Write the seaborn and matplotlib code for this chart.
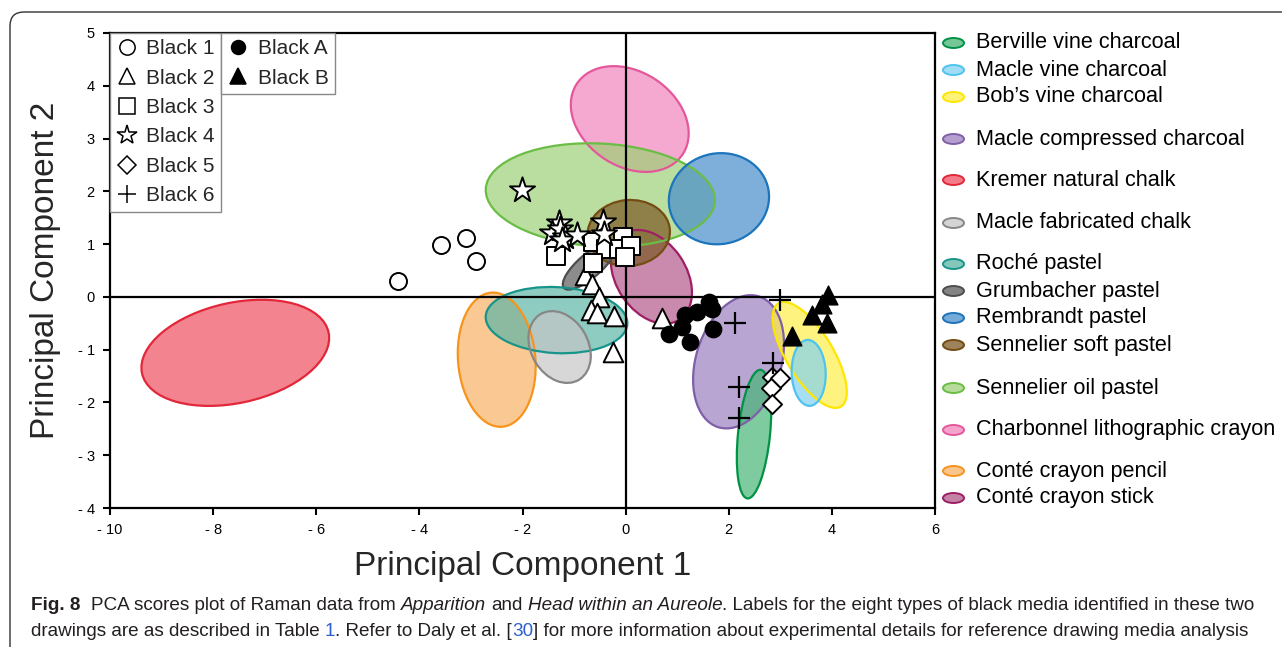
import matplotlib
matplotlib.use("Agg")
import seaborn as sns
import matplotlib.pyplot as plt
from matplotlib.patches import Ellipse, FancyBboxPatch
from matplotlib.lines import Line2D
from matplotlib.transforms import IdentityTransform

# ---- sample scores (PC1, PC2) ----
black1_x = [-4.41, -3.59, -3.09, -2.91]
black1_y = [0.30, 0.98, 1.12, 0.68]
black2_x = [-0.78, -0.66, -0.52, -0.68, -0.56, -0.23, -0.25, 0.70]
black2_y = [0.42, 0.25, 0.00, -0.25, -0.30, -0.36, -1.04, -0.40]
black3_x = [-1.36, -0.64, -0.39, -0.64, -0.06, -0.12, 0.10, -0.02]
black3_y = [0.78, 1.04, 0.91, 0.64, 1.14, 0.91, 0.97, 0.76]
black4_x = [-2.01, -1.30, -1.42, -1.28, -1.17, -1.24, -0.95, -0.43, -0.41]
black4_y = [2.02, 1.40, 1.21, 1.29, 1.14, 1.08, 1.17, 1.42, 1.19]
black5_x = [2.83, 2.99, 2.82, 2.83]
black5_y = [-1.52, -1.53, -1.72, -2.03]
black6_x = [2.99, 2.12, 2.85, 2.19, 2.19]
black6_y = [-0.06, -0.49, -1.25, -1.70, -2.29]
blackA_x = [0.85, 1.09, 1.15, 1.38, 1.24, 1.61, 1.67, 1.69]
blackA_y = [-0.70, -0.57, -0.34, -0.28, -0.85, -0.09, -0.23, -0.61]
blackB_x = [3.92, 3.81, 3.61, 3.90, 3.22]
blackB_y = [0.04, -0.13, -0.34, -0.49, -0.74]

# ---- reference media confidence ellipses ----
media = ["Berville vine charcoal", "Macle vine charcoal", "Bob\u2019s vine charcoal",
         "Macle compressed charcoal", "Kremer natural chalk", "Macle fabricated chalk",
         "Roch\u00e9 pastel", "Grumbacher pastel", "Rembrandt pastel",
         "Sennelier soft pastel", "Sennelier oil pastel",
         "Charbonnel lithographic crayon", "Cont\u00e9 crayon pencil", "Cont\u00e9 crayon stick"]
ell_cx = [2.49, 3.55, 3.57, 2.19, -7.57, -1.28, -1.34, -0.70, 1.81, 0.06, -0.49, 0.08, -2.50, 0.50]
ell_cy = [-2.60, -1.44, -1.10, -1.23, -1.06, -0.95, -0.44, 0.59, 1.86, 1.21, 1.93, 3.37, -1.19, 0.38]
ell_w = [2.45, 1.25, 2.30, 2.60, 3.70, 1.45, 2.75, 1.30, 1.95, 1.60, 4.45, 2.45, 2.55, 1.95]
ell_h = [0.62, 0.66, 0.90, 1.65, 1.90, 1.10, 1.25, 0.45, 1.72, 1.25, 1.95, 1.80, 1.50, 1.35]
ell_ang = [84, 92, -58, 72, 12, -58, -3, 40, 10, 5, -3, -32, 95, -55]

face = ["#47b576", "#80d1f1", "#ffef4a", "#9b7fc0", "#ef4e5e", "#c6c6c6", "#5eb5a6",
        "#5b5b5b", "#488ecd", "#7c5924", "#9dd176", "#f284bc", "#f8b265", "#b2588a"]
edge = ["#009245", "#4dc4f0", "#ffe600", "#7f5fa8", "#e3273a", "#878787", "#18958a",
        "#4d4d4d", "#1c75bc", "#754c14", "#6abd45", "#e5579b", "#f7941d", "#9e1f63"]

xtick_vals = [-10, -8, -6, -4, -2, 0, 2, 4, 6]
xtick_labels = ["- 10", "- 8", "- 6", "- 4", "- 2", "0", "2", "4", "6"]
ytick_vals = [-4, -3, -2, -1, 0, 1, 2, 3, 4, 5]
ytick_labels = ["- 4", "- 3", "- 2", "- 1", "0", "1", "2", "3", "4", "5"]

sns.set_theme(style="white")
plt.rcParams['font.family'] = ['Liberation Sans', 'DejaVu Sans']

W, H = 1282, 647
fig = plt.figure(figsize=(W / 100, H / 100), dpi=100)
ax = fig.add_axes([110 / W, 1 - 508 / H, 825 / W, 475 / H])

# ellipses, drawn back to front
for i in reversed(range(len(media))):
    ax.add_patch(Ellipse((ell_cx[i], ell_cy[i]), ell_w[i], ell_h[i], angle=ell_ang[i],
                         facecolor=face[i], edgecolor="none", alpha=0.7, zorder=1))
    ax.add_patch(Ellipse((ell_cx[i], ell_cy[i]), ell_w[i], ell_h[i], angle=ell_ang[i],
                         facecolor="none", edgecolor=edge[i], lw=1.6, zorder=1.5))

ax.axhline(0, color="black", lw=1.6, zorder=3)
ax.axvline(0, color="black", lw=1.6, zorder=3)

# samples
open_kw = dict(color="white", edgecolor="black", linewidth=1.4, zorder=5, ax=ax, legend=False)
sns.scatterplot(x=black1_x, y=black1_y, marker="o", s=150, **open_kw)
sns.scatterplot(x=black2_x, y=black2_y, marker="^", s=200, **open_kw)
sns.scatterplot(x=black3_x, y=black3_y, marker="s", s=155, **open_kw)
sns.scatterplot(x=black4_x, y=black4_y, marker="*", s=360, **open_kw)
sns.scatterplot(x=black5_x, y=black5_y, marker="D", s=95, **open_kw)
sns.scatterplot(x=black6_x, y=black6_y, marker="+", s=240, color="black",
                linewidth=1.6, zorder=5, ax=ax, legend=False)
sns.scatterplot(x=blackA_x, y=blackA_y, marker="o", s=140, color="black",
                edgecolor="black", zorder=5, ax=ax, legend=False)
sns.scatterplot(x=blackB_x, y=blackB_y, marker="^", s=180, color="black",
                edgecolor="black", zorder=5, ax=ax, legend=False)

ax.set_xlim(-10, 6)
ax.set_ylim(-4, 5)
ax.set_xticks(xtick_vals)
ax.set_xticklabels(xtick_labels)
ax.set_yticks(ytick_vals)
ax.set_yticklabels(ytick_labels)
ax.tick_params(direction="out", length=5, width=1.5, labelsize=10.5, pad=6,
               colors="black", bottom=True, left=True)
for s in ax.spines.values():
    s.set_color("black")
    s.set_linewidth(1.6)
ax.set_xlabel("Principal Component 1", fontsize=24, labelpad=10)
ax.set_ylabel("Principal Component 2", fontsize=24, labelpad=12)

# sample legends
def h(marker, fc, ms=11):
    return Line2D([], [], marker=marker, linestyle="none", markerfacecolor=fc,
                  markeredgecolor="black", color="black", markersize=ms, markeredgewidth=1.1)

leg_kw = dict(frameon=True, fancybox=False, framealpha=1, edgecolor="#888888",
              fontsize=15, borderaxespad=0, handlelength=1.0, handletextpad=0.45,
              labelspacing=0.5, borderpad=0.3)
leg1 = ax.legend([h("o", "white"), h("^", "white"), h("s", "white"),
                  h("*", "white", 15), h("D", "white", 9), h("+", "black", 13)],
                 ["Black 1", "Black 2", "Black 3", "Black 4", "Black 5", "Black 6"],
                 loc="upper left", bbox_to_anchor=(0, 1), **leg_kw)
leg1.get_frame().set_linewidth(1)
ax.add_artist(leg1)
fig.canvas.draw()
bb = leg1.get_window_extent().transformed(ax.transAxes.inverted())
leg2 = ax.legend([h("o", "black", 10), h("^", "black", 12)], ["Black A", "Black B"],
                 loc="upper left", bbox_to_anchor=(bb.x1, 1), **leg_kw)
leg2.get_frame().set_linewidth(1)

# media legend on the right, grouped as in the figure
row_y = [43, 70, 97, 139, 180, 223, 264, 291, 318, 345, 388, 430, 471, 498]
for i, name in enumerate(media):
    yf = 1 - row_y[i] / H
    fig.add_artist(Ellipse((953.5 / W, yf), 21 / W, 10 / H, transform=fig.transFigure,
                           facecolor=face[i], edgecolor="none", alpha=0.75))
    fig.add_artist(Ellipse((953.5 / W, yf), 21 / W, 10 / H, transform=fig.transFigure,
                           facecolor="none", edgecolor=edge[i], lw=1.4))
    fig.text(976 / W, yf, name, fontsize=15.6, va="center", ha="left", color="black")

# rounded frame of the figure panel
fig.add_artist(FancyBboxPatch((10, -40), 1400, H - 12 + 40,
                              boxstyle="round,pad=0,rounding_size=14",
                              transform=IdentityTransform(), facecolor="none",
                              edgecolor="#333333", lw=1.0))

# caption with mixed styles
renderer = fig.canvas.get_renderer()
cap_size = 13.6
cap_col = "#231f20"
link_col = "#2b5fce"


def width_of(txt, **kw):
    t = fig.text(0, 0, txt, fontsize=cap_size, **kw)
    w = t.get_window_extent(renderer).width
    t.remove()
    return w


space_w = width_of("x x") - width_of("xx")
line1 = [("Fig. 8", "bold", "normal", cap_col, 0),
         ("PCA scores plot of Raman data from", "normal", "normal", cap_col, 2),
         ("Apparition", "normal", "italic", cap_col, 1),
         ("and", "normal", "normal", cap_col, 1),
         ("Head within an Aureole", "normal", "italic", cap_col, 1),
         (". Labels for the eight types of black media identified in these two",
          "normal", "normal", cap_col, 0)]
line2 = [("drawings are as described in Table", "normal", "normal", cap_col, 0),
         ("1", "normal", "normal", link_col, 1),
         (". Refer to Daly et al. [", "normal", "normal", cap_col, 0),
         ("30", "normal", "normal", link_col, 0),
         ("] for more information about experimental details for reference drawing media analysis",
          "normal", "normal", cap_col, 0)]
for pieces, ypx in [(line1, 606), (line2, 631)]:
    x = 31.0
    for txt, wt, st, col, gap in pieces:
        x += gap * space_w
        t = fig.text(x / W, 1 - ypx / H, txt, fontsize=cap_size, fontweight=wt,
                     fontstyle=st, color=col, va="center", ha="left")
        x += t.get_window_extent(renderer).width

fig.savefig("out.png", dpi=100)
